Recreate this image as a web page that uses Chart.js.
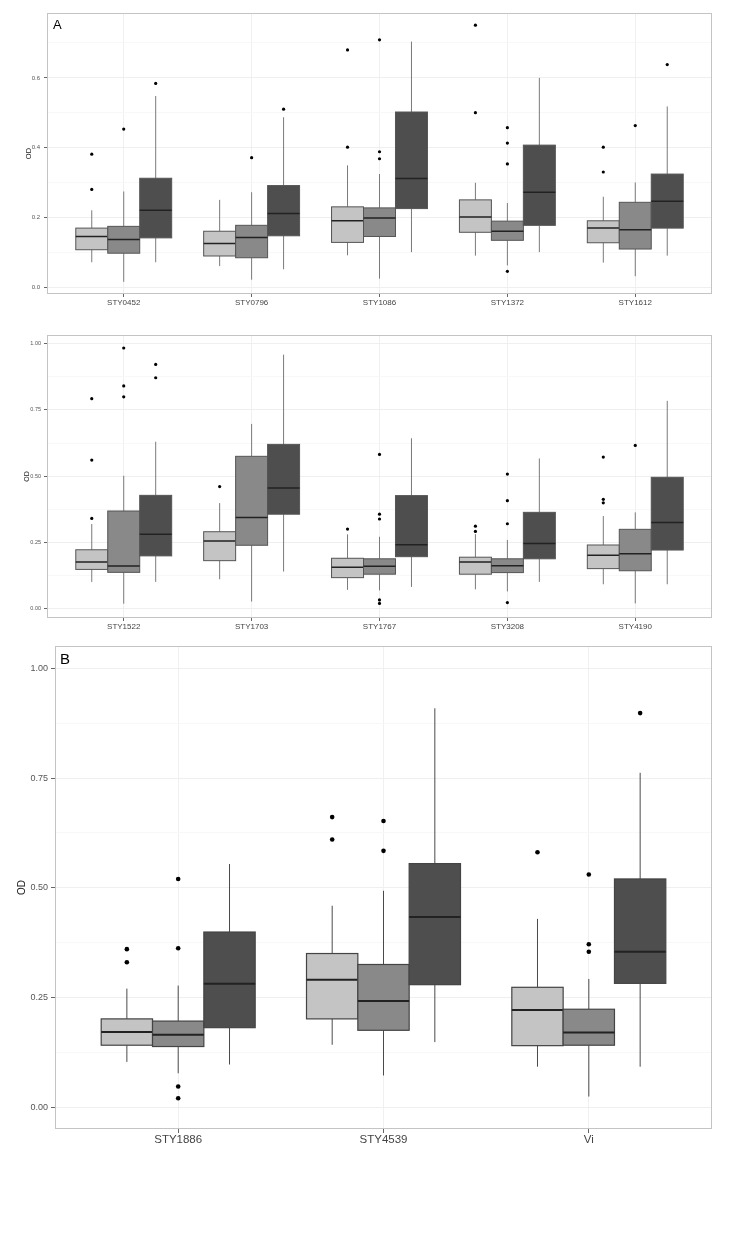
<!DOCTYPE html>
<html>
<head>
<meta charset="utf-8">
<script src="https://cdn.jsdelivr.net/npm/chart.js@4.4.1/dist/chart.umd.min.js"></script>
<style>
  body { margin: 0; background: #fff; }
  .panel { position: absolute; left: 0; }
  .panel canvas { display: block; }
  .tag { position: absolute; font-family: "Liberation Sans", Arial, sans-serif; line-height: 1; color: #000; }
</style>
</head>
<body>
<div class="panel" style="top:0"><canvas id="chartA" width="735" height="312"></canvas></div>
<div class="panel" style="top:320px"><canvas id="chartB" width="735" height="316"></canvas></div>
<div class="panel" style="top:636px"><canvas id="chartC" width="735" height="520"></canvas></div>
<div class="tag" style="left:53px;top:17.5px;font-size:13px">A</div>
<div class="tag" style="left:60px;top:650.5px;font-size:15px">B</div>

<script>
// each box: [lower whisker, q1, median, q3, upper whisker]
const catsA = ['STY0452', 'STY0796', 'STY1086', 'STY1372', 'STY1612'];
const aLight = [
  [0.071, 0.107, 0.145, 0.169, 0.220],
  [0.060, 0.089, 0.125, 0.160, 0.250],
  [0.091, 0.128, 0.190, 0.230, 0.349],
  [0.090, 0.157, 0.201, 0.250, 0.299],
  [0.070, 0.127, 0.169, 0.190, 0.259]
];
const aMid = [
  [0.015, 0.097, 0.136, 0.174, 0.274],
  [0.021, 0.084, 0.142, 0.177, 0.272],
  [0.024, 0.145, 0.198, 0.227, 0.324],
  [0.062, 0.134, 0.160, 0.189, 0.241],
  [0.031, 0.109, 0.164, 0.243, 0.300]
];
const aDark = [
  [0.071, 0.141, 0.220, 0.312, 0.548],
  [0.051, 0.147, 0.211, 0.291, 0.487],
  [0.100, 0.225, 0.311, 0.502, 0.704],
  [0.100, 0.177, 0.272, 0.407, 0.600],
  [0.090, 0.169, 0.246, 0.324, 0.518]
];
const aLightOut = [[0.381, 0.280], [], [0.680, 0.401], [0.751, 0.500], [0.401, 0.330]];
const aMidOut = [[0.453], [0.371], [0.709, 0.388, 0.368], [0.457, 0.413, 0.353, 0.045], [0.463]];
const aDarkOut = [[0.584], [0.510], [], [], [0.638]];
const ticksA = [0, 0.2, 0.4, 0.6];

const catsB = ['STY1522', 'STY1703', 'STY1767', 'STY3208', 'STY4190'];
const bLight = [
  [0.102, 0.149, 0.177, 0.223, 0.320],
  [0.112, 0.182, 0.256, 0.291, 0.399],
  [0.072, 0.118, 0.157, 0.191, 0.281],
  [0.074, 0.131, 0.177, 0.195, 0.282],
  [0.093, 0.152, 0.202, 0.241, 0.350]
];
const bMid = [
  [0.020, 0.138, 0.162, 0.369, 0.502],
  [0.028, 0.240, 0.345, 0.575, 0.697],
  [0.070, 0.131, 0.161, 0.189, 0.272],
  [0.066, 0.137, 0.163, 0.189, 0.260],
  [0.021, 0.144, 0.208, 0.300, 0.364]
];
const bDark = [
  [0.102, 0.200, 0.281, 0.428, 0.630],
  [0.141, 0.357, 0.456, 0.620, 0.958],
  [0.083, 0.197, 0.242, 0.427, 0.643],
  [0.102, 0.189, 0.247, 0.364, 0.567],
  [0.093, 0.222, 0.326, 0.496, 0.784]
];
const bLightOut = [[0.792, 0.561, 0.341], [0.461], [0.301], [0.312, 0.292], [0.572, 0.413, 0.400]];
const bMidOut = [[0.983, 0.840, 0.799], [], [0.582, 0.357, 0.339, 0.034, 0.021], [0.508, 0.408, 0.321, 0.024], [0.616]];
const bDarkOut = [[0.921, 0.871], [], [], [], []];
const ticksB = [0, 0.25, 0.5, 0.75, 1.0];

const catsC = ['STY1886', 'STY4539', 'Vi'];
const cLight = [
  [0.103, 0.141, 0.171, 0.201, 0.270],
  [0.142, 0.201, 0.290, 0.350, 0.459],
  [0.092, 0.140, 0.221, 0.273, 0.429]
];
const cMid = [
  [0.077, 0.138, 0.165, 0.196, 0.277],
  [0.072, 0.175, 0.242, 0.325, 0.493],
  [0.024, 0.141, 0.170, 0.223, 0.292]
];
const cDark = [
  [0.097, 0.181, 0.281, 0.399, 0.554],
  [0.148, 0.279, 0.433, 0.555, 0.909],
  [0.092, 0.282, 0.354, 0.520, 0.762]
];
const cLightOut = [[0.360, 0.330], [0.661, 0.610], [0.581]];
const cMidOut = [[0.520, 0.362, 0.047, 0.020], [0.652, 0.584], [0.530, 0.371, 0.354]];
const cDarkOut = [[], [], [0.898]];
const ticksC = [0, 0.25, 0.5, 0.75, 1.0];

const fills = ['#c4c4c4', '#898989', '#4e4e4e'];
const FONT = '"Liberation Sans", Arial, sans-serif';

// box + whisker drawing, done with the chart's own scales
function boxPlugin(groups, st) {
  return {
    id: 'boxes',
    beforeDatasetsDraw(chart) {
      const ctx = chart.ctx, x = chart.scales.x, y = chart.scales.y;
      ctx.save();
      groups.forEach((boxes, g) => {
        boxes.forEach((b, i) => {
          const c = i + 1 + (g - 1) * 0.25;
          const xc = x.getPixelForValue(c);
          const xl = x.getPixelForValue(c - 0.125);
          const xr = x.getPixelForValue(c + 0.125);
          const [lo, q1, med, q3, hi] = b.map(v => y.getPixelForValue(v));
          // whiskers
          ctx.strokeStyle = st.whisker;
          ctx.lineWidth = st.whiskerWidth;
          ctx.beginPath();
          ctx.moveTo(xc, lo); ctx.lineTo(xc, q1);
          ctx.moveTo(xc, q3); ctx.lineTo(xc, hi);
          ctx.stroke();
          // box
          ctx.fillStyle = fills[g];
          ctx.fillRect(xl, q3, xr - xl, q1 - q3);
          ctx.strokeStyle = st.edge;
          ctx.lineWidth = st.edgeWidth;
          ctx.strokeRect(xl, q3, xr - xl, q1 - q3);
          // median
          ctx.strokeStyle = '#222';
          ctx.lineWidth = st.medWidth;
          ctx.beginPath();
          ctx.moveTo(xl, med); ctx.lineTo(xr, med);
          ctx.stroke();
        });
      });
      ctx.restore();
    },
    afterDraw(chart) {
      const ctx = chart.ctx, a = chart.chartArea;
      ctx.save();
      ctx.strokeStyle = '#c4c4c4';
      ctx.lineWidth = 1;
      ctx.strokeRect(Math.round(a.left) + 0.5, Math.round(a.top) + 0.5,
        Math.round(a.right - a.left) - 1, Math.round(a.bottom - a.top) - 1);
      ctx.restore();
    }
  };
}

function outlierData(outs, g) {
  const pts = [];
  outs.forEach((vals, i) => {
    vals.forEach(v => pts.push({x: i + 1 + (g - 1) * 0.25, y: v}));
  });
  return pts;
}

function makePanel(id, p) {
  const step = p.ticks[1] - p.ticks[0];
  const minors = p.ticks.map(v => v + step / 2).filter(v => v < p.ymax);
  const allTicks = p.ticks.concat(minors).sort((a, b) => a - b);
  const isMajor = v => p.ticks.some(t => Math.abs(t - v) < 1e-9);

  new Chart(document.getElementById(id), {
    type: 'scatter',
    data: {
      datasets: p.outs.map((o, g) => ({
        data: outlierData(o, g),
        backgroundColor: '#000',
        borderWidth: 0,
        pointRadius: p.dot
      }))
    },
    options: {
      responsive: false,
      animation: false,
      events: [],
      layout: { padding: { left: 0, top: p.padTop, right: 23, bottom: 0 } },
      plugins: { legend: { display: false }, tooltip: { enabled: false } },
      scales: {
        x: {
          type: 'linear',
          min: 0.4,
          max: p.cats.length + 0.6,
          afterBuildTicks: s => { s.ticks = p.cats.map((c, i) => ({ value: i + 1 })); },
          afterFit: s => { s.height = p.xHeight; },
          border: { display: false },
          grid: { color: '#f0f0f0', tickLength: p.tickLen, tickColor: '#666' },
          ticks: {
            autoSkip: false,
            maxRotation: 0,
            padding: p.xPad,
            color: '#444',
            font: { family: FONT, size: p.xFont },
            callback: v => p.cats[Math.round(v) - 1]
          }
        },
        y: {
          min: p.ymin,
          max: p.ymax,
          afterBuildTicks: s => { s.ticks = allTicks.map(v => ({ value: v })); },
          afterFit: s => { s.width = p.yWidth; },
          border: { display: false },
          grid: {
            color: c => isMajor(c.tick.value) ? '#efefef' : '#f8f8f8',
            tickLength: p.tickLen,
            tickColor: c => isMajor(c.tick.value) ? '#666' : 'rgba(0,0,0,0)'
          },
          ticks: {
            autoSkip: false,
            padding: p.yPad,
            color: '#555',
            font: { family: FONT, size: p.yFont },
            callback: v => isMajor(v) ? v.toFixed(p.dec) : ''
          },
          title: {
            display: true,
            text: 'OD',
            color: '#222',
            font: { family: FONT, size: p.titleFont },
            padding: { top: p.titlePad, bottom: 0 }
          }
        }
      }
    },
    plugins: [boxPlugin(p.groups, p.style)]
  });
}

const thin = { whisker: '#7a7a7a', whiskerWidth: 1, edge: '#555', edgeWidth: 1, medWidth: 1.5 };

makePanel('chartA', {
  cats: catsA, groups: [aLight, aMid, aDark], outs: [aLightOut, aMidOut, aDarkOut],
  ticks: ticksA, dec: 1, ymin: -0.020, ymax: 0.786,
  padTop: 13, xHeight: 18, yWidth: 47, tickLen: 3, xPad: 1, yPad: 4,
  xFont: 8, yFont: 6, titleFont: 7.5, titlePad: 24, dot: 1.6, style: thin
});

makePanel('chartB', {
  cats: catsB, groups: [bLight, bMid, bDark], outs: [bLightOut, bMidOut, bDarkOut],
  ticks: ticksB, dec: 2, ymin: -0.034, ymax: 1.032,
  padTop: 15, xHeight: 18, yWidth: 47, tickLen: 3, xPad: 1, yPad: 3,
  xFont: 8, yFont: 5.5, titleFont: 7, titlePad: 22.5, dot: 1.6, style: thin
});

makePanel('chartC', {
  cats: catsC, groups: [cLight, cMid, cDark], outs: [cLightOut, cMidOut, cDarkOut],
  ticks: ticksC, dec: 2, ymin: -0.050, ymax: 1.051,
  padTop: 10, xHeight: 27, yWidth: 55, tickLen: 4, xPad: 0, yPad: 3,
  xFont: 11.5, yFont: 9, titleFont: 10, titlePad: 16, dot: 2.3,
  style: { whisker: '#4a4a4a', whiskerWidth: 1, edge: '#444', edgeWidth: 1.2, medWidth: 2 }
});
</script>
</body>
</html>
